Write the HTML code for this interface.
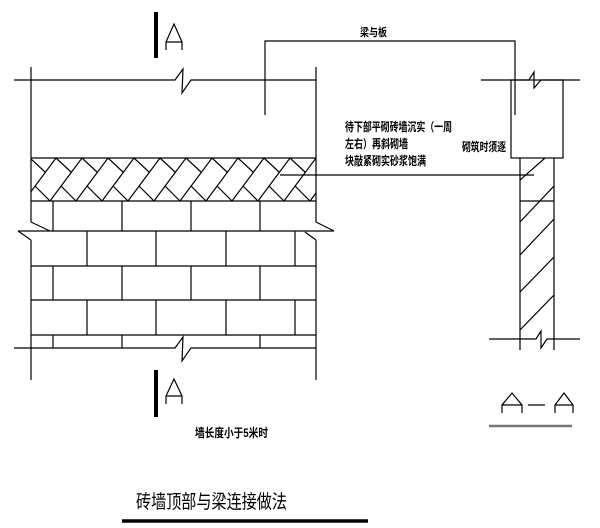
<!DOCTYPE html>
<html><head><meta charset="utf-8"><style>
html,body{margin:0;padding:0;background:#fff;width:600px;height:528px;overflow:hidden}
svg{display:block}
text{font-family:"Liberation Sans","Noto Sans CJK SC",sans-serif;fill:#000}
</style></head><body>
<svg width="600" height="528" viewBox="0 0 600 528" stroke="#000" stroke-width="1.2" fill="none">
<defs><clipPath id="hc"><rect x="31" y="158" width="285" height="43"/></clipPath>
<clipPath id="cc"><rect x="520" y="158" width="34" height="190"/></clipPath></defs>
<line x1="31" y1="67" x2="31" y2="222"/><line x1="31" y1="240" x2="31" y2="380"/>
<line x1="316" y1="67" x2="316" y2="222"/><line x1="316" y1="240" x2="316" y2="380"/>
<polyline points="14,80 175,80 183,69 182,93 191,80 316,80"/>
<polyline points="14,348 175,348 183,337 182,361 191,348 316,348"/>
<polyline points="265,115 265,41 515,41 515,115"/>
<line x1="31" y1="158" x2="316" y2="158"/><line x1="31" y1="201" x2="316" y2="201"/>
<g clip-path="url(#hc)">
<path d="M24,201 L56,158 M50,201 L82,158 M76,201 L108,158 M102,201 L134,158 M128,201 L160,158 M154,201 L186,158 M180,201 L212,158 M206,201 L238,158 M232,201 L264,158 M258,201 L290,158 M284,201 L316,158 M310,201 L342,158
M30,158 L45,172 M56,158 L71,172 M82,158 L97,172 M108,158 L123,172 M134,158 L149,172 M160,158 L175,172 M186,158 L201,172 M212,158 L227,172 M238,158 L253,172 M264,158 L279,172 M290,158 L305,172
M35,186 L50,201 M61,186 L76,201 M87,186 L102,201 M113,186 L128,201 M139,186 L154,201 M165,186 L180,201 M191,186 L206,201 M217,186 L232,201 M243,186 L258,201 M269,186 L284,201 M295,186 L310,201"/>
</g>
<path d="M18,231 L334,231 M31,266 L316,266 M31,300 L316,300 M31,335 L316,335
M53,201V231 M122,201V231 M191,201V231 M260,201V231
M87,231V266 M156,231V266 M226,231V266 M295,231V266
M53,266V300 M122,266V300 M191,266V300 M260,266V300
M87,300V335 M156,300V335 M226,300V335 M295,300V335
M53,335V348 M122,335V348 M260,335V348"/>
<path d="M31,222 L50,231 M18,231 L31,240 M316,222 L334,231 M305,232 L316,240"/>
<rect x="154" y="12" width="4" height="46" fill="#000" stroke="none"/>
<path d="M166,50 V42 L174,24 L182,42 V50 M166,42 H182"/>
<rect x="154" y="370" width="4" height="47" fill="#000" stroke="none"/>
<path d="M166,404 V396 L174,379 L182,396 V404 M166,396 H182"/>
<polyline points="481,80 529,80 534,72 534,88 541,80 580,80"/>
<rect x="511" y="80" width="52" height="78"/>
<line x1="520" y1="158" x2="520" y2="350"/><line x1="554" y1="158" x2="554" y2="350"/>
<line x1="520" y1="201" x2="554" y2="201"/>
<polyline points="489,339 536,339 541,331 541,348 547,339 580,339"/>
<g clip-path="url(#cc)"><path d="M520,180 L545,158 M520,222 L554,186 M520,255 L554,219 M520,292 L554,257 M520,330 L554,295"/></g>
<line x1="280" y1="175" x2="534" y2="175"/>
<path d="M502,413 V405 L512,393 L522,405 V413 M502,405 H522 M528,405 H545 M555,413 V405 L564,393 L573,405 V413 M555,405 H573"/>
<line x1="489" y1="426" x2="572" y2="426" stroke="#777" stroke-width="2.5"/>
<line x1="122" y1="521" x2="368" y2="521" stroke-width="3.5"/>
<g stroke="none" font-weight="bold">
<text x="360" y="36" font-size="11" textLength="27" lengthAdjust="spacingAndGlyphs">梁与板</text>
<text x="345" y="131" font-size="12" textLength="107" lengthAdjust="spacingAndGlyphs">待下部平砌砖墙沉实（一周</text>
<text x="345" y="148" font-size="12" textLength="63" lengthAdjust="spacingAndGlyphs">左右）再斜砌墙</text>
<text x="345" y="165" font-size="12" textLength="81" lengthAdjust="spacingAndGlyphs">块敲紧砌实砂浆饱满</text>
<text x="462" y="151" font-size="12" textLength="44" lengthAdjust="spacingAndGlyphs">砌筑时须逐</text>
<text x="195" y="437" font-size="12" textLength="73" lengthAdjust="spacingAndGlyphs">墙长度小于5米时</text>
</g>
<text x="136" y="508" font-size="19" textLength="151" lengthAdjust="spacingAndGlyphs" stroke="none">砖墙顶部与梁连接做法</text>
</svg>
</body></html>
